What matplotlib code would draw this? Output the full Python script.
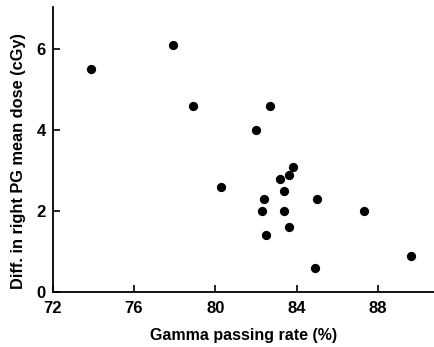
import matplotlib
matplotlib.use('Agg')
from matplotlib import pyplot as plt

# Gamma passing rate (%) vs difference in right PG mean dose (cGy)
gamma_rate = [73.9, 77.9, 78.9, 82.7, 82.0, 80.3, 83.8, 83.6, 83.2, 83.4,
              82.4, 85.0, 82.3, 83.4, 87.3, 83.6, 82.5, 89.6, 84.9]
dose_diff = [5.5, 6.1, 4.6, 4.6, 4.0, 2.6, 3.1, 2.9, 2.8, 2.5,
             2.3, 2.3, 2.0, 2.0, 2.0, 1.6, 1.4, 0.9, 0.6]

x_ticks = [72, 76, 80, 84, 88]
y_ticks = [0, 2, 4, 6]

plt.rcParams['font.family'] = ['Liberation Sans', 'DejaVu Sans']
plt.rcParams['font.weight'] = 'bold'

fig = plt.figure(figsize=(4.35, 3.47), dpi=100)
ax = fig.add_axes([0.121, 0.158, 0.879, 0.821])

ax.scatter(gamma_rate, dose_diff, s=32, color='black', zorder=3)

ax.set_xlim(72, 90.8)
ax.set_ylim(0, 7.03)
ax.set_xticks(x_ticks)
ax.set_yticks(y_ticks)
ax.tick_params(direction='in', length=5, width=1.2, labelsize=12, pad=5)
ax.tick_params(axis='x', pad=6)
for lbl in ax.get_xticklabels() + ax.get_yticklabels():
    lbl.set_fontweight('bold')

ax.spines['top'].set_visible(False)
ax.spines['right'].set_visible(False)
ax.spines['left'].set_linewidth(1.3)
ax.spines['bottom'].set_linewidth(1.3)

ax.set_xlabel('Gamma passing rate (%)', fontsize=11.5, fontweight='bold', labelpad=9)
ax.set_ylabel('Diff. in right PG mean dose (cGy)', fontsize=11.8, fontweight='bold')
ax.yaxis.set_label_coords(-0.07, 0.46)

fig.savefig('out.png', dpi=100)
